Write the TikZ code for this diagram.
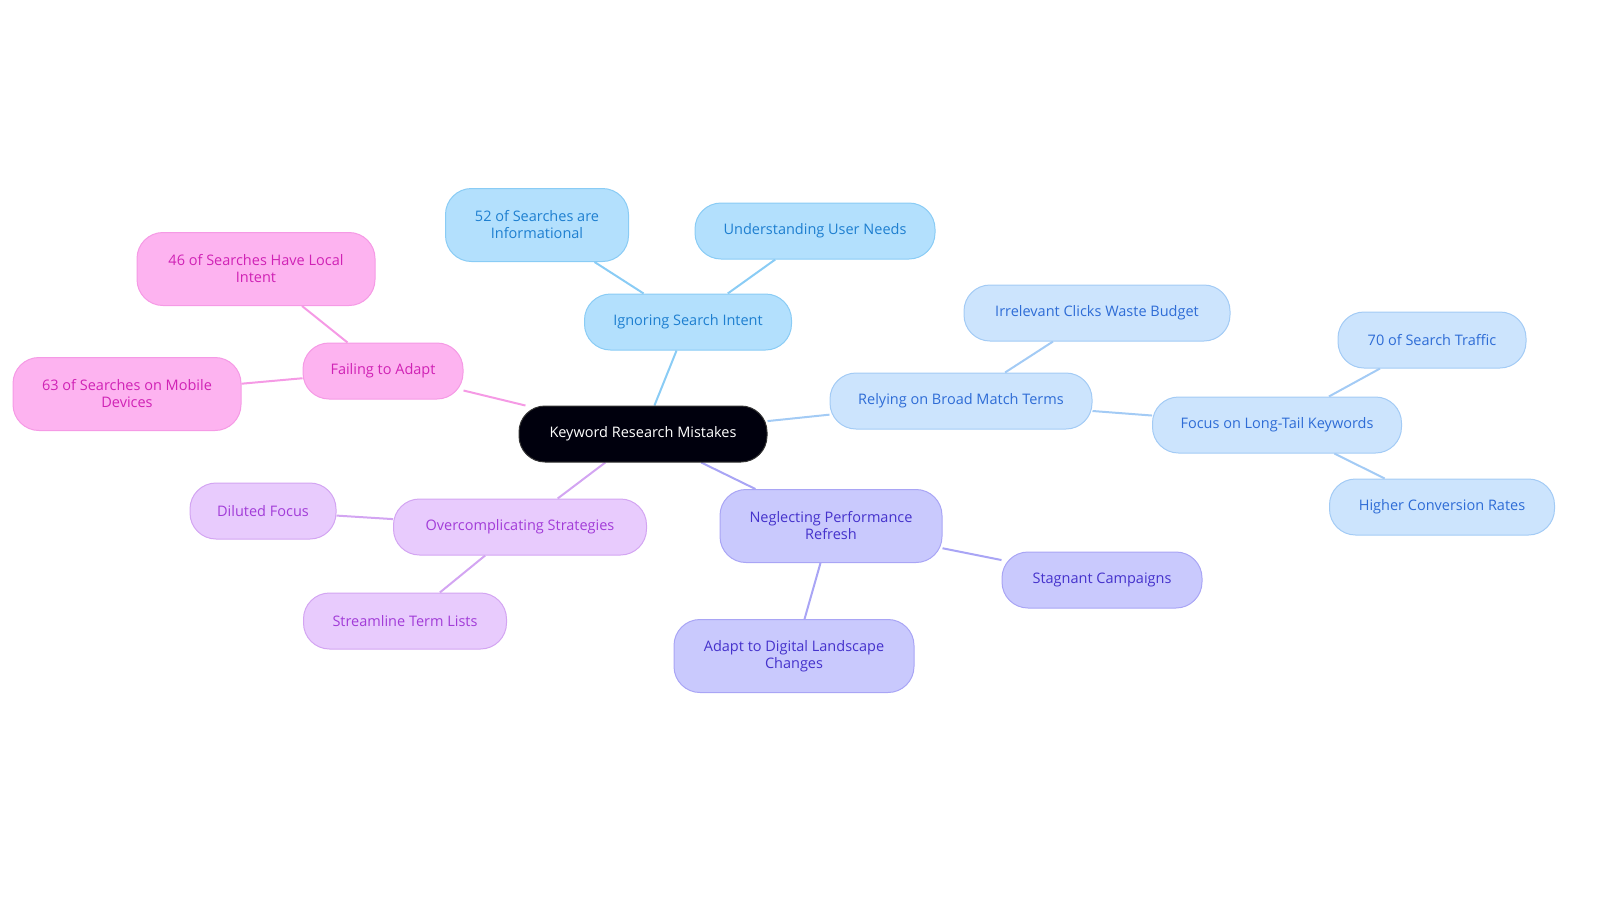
\documentclass[tikz,border=0pt]{standalone}
\usepackage{fontspec}
\setmainfont{Open Sans}
\usetikzlibrary{backgrounds}
\definecolor{bfill}{HTML}{B3E0FD}\definecolor{bdraw}{HTML}{8ACCF5}\definecolor{btext}{HTML}{1E7FD0}
\definecolor{lfill}{HTML}{CCE4FD}\definecolor{ldraw}{HTML}{A3CBF5}\definecolor{ltext}{HTML}{2E6CD6}
\definecolor{pfill}{HTML}{C9C9FD}\definecolor{pdraw}{HTML}{A9A5F5}\definecolor{ptext}{HTML}{4532CC}
\definecolor{vfill}{HTML}{E8CBFD}\definecolor{vdraw}{HTML}{D3A5F2}\definecolor{vtext}{HTML}{A23CD8}
\definecolor{kfill}{HTML}{FDB3F0}\definecolor{kdraw}{HTML}{F59AE5}\definecolor{ktext}{HTML}{D022B5}
\begin{document}
\begin{tikzpicture}[x=1pt,y=-1pt,
 box/.style={rounded corners=26pt,line width=1pt,align=center,font=\fontsize{14.5}{17}\selectfont,inner sep=0pt,minimum height=56pt},
 B/.style={box,fill=bfill,draw=bdraw,text=btext},
 L/.style={box,fill=lfill,draw=ldraw,text=ltext},
 P/.style={box,fill=pfill,draw=pdraw,text=ptext},
 V/.style={box,fill=vfill,draw=vdraw,text=vtext},
 K/.style={box,fill=kfill,draw=kdraw,text=ktext},
 tall/.style={minimum height=73pt},
 e/.style={line width=2pt}]
\useasboundingbox (0,0) rectangle (1600,903);
\node[box,fill=black!95!blue,draw=black!80,text=white,minimum width=248pt] (root) at (643,434) {Keyword Research Mistakes};
\node[B,minimum width=207pt] (ign) at (688,322) {Ignoring Search Intent};
\node[B,tall,minimum width=183pt] (s52) at (537,225) {52 of Searches are\\Informational};
\node[B,minimum width=240pt] (und) at (815,231) {Understanding User Needs};
\node[L,minimum width=262pt] (rel) at (961,401) {Relying on Broad Match Terms};
\node[L,minimum width=266pt] (irr) at (1097,313) {Irrelevant Clicks Waste Budget};
\node[L,minimum width=249pt] (foc) at (1277,425) {Focus on Long-Tail Keywords};
\node[L,minimum width=188pt] (s70) at (1432,340) {70 of Search Traffic};
\node[L,minimum width=225pt] (hig) at (1442,507) {Higher Conversion Rates};
\node[P,tall,minimum width=222pt] (neg) at (831,526) {Neglecting Performance\\Refresh};
\node[P,minimum width=200pt] (sta) at (1102,580) {Stagnant Campaigns};
\node[P,tall,minimum width=240pt] (ada) at (794,656) {Adapt to Digital Landscape\\Changes};
\node[V,minimum width=253pt] (ove) at (520,527) {Overcomplicating Strategies};
\node[V,minimum width=146pt] (dil) at (263,511) {Diluted Focus};
\node[V,minimum width=203pt] (str) at (405,621) {Streamline Term Lists};
\node[K,minimum width=160pt] (fai) at (383,371) {Failing to Adapt};
\node[K,tall,minimum width=238pt] (s46) at (256,269) {46 of Searches Have Local\\Intent};
\node[K,tall,minimum width=228pt] (s63) at (127,394) {63 of Searches on Mobile\\Devices};
\begin{scope}[on background layer]
\draw[e,bdraw] (root)--(ign) (ign)--(s52) (ign)--(und);
\draw[e,ldraw] (root)--(rel) (rel)--(irr) (rel)--(foc) (foc)--(s70) (foc)--(hig);
\draw[e,pdraw] (root)--(neg) (neg)--(sta) (neg)--(ada);
\draw[e,vdraw] (root)--(ove) (ove)--(dil) (ove)--(str);
\draw[e,kdraw] (root)--(fai) (fai)--(s46) (fai)--(s63);
\end{scope}
\end{tikzpicture}
\end{document}
